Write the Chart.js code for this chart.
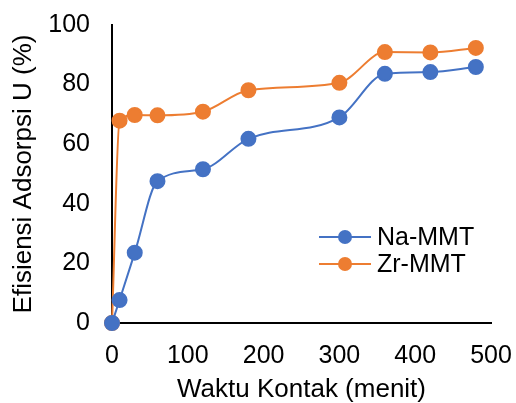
<!DOCTYPE html>
<html>
<head>
<meta charset="utf-8">
<script src="https://cdn.jsdelivr.net/npm/chart.js@4/dist/chart.umd.min.js"></script>
<style>
  html, body { margin: 0; padding: 0; background: #fff; }
  #wrap { width: 516px; height: 403px; }
</style>
</head>
<body>
<div id="wrap"><canvas id="c" width="516" height="403"></canvas></div>
<script>
// Contact time (minutes)
const waktu = [0, 10, 30, 60, 120, 180, 300, 360, 420, 480];
// Uranium adsorption efficiency (%)
const naMMT = [0, 7.7, 23.6, 47.6, 51.6, 61.8, 69.0, 83.6, 84.2, 85.9];
const zrMMT = [0, 67.9, 69.8, 69.7, 70.9, 78.1, 80.6, 90.9, 90.8, 92.3];
const seriesNames = ['Na-MMT', 'Zr-MMT'];
const xTicks = [0, 100, 200, 300, 400, 500];
const yTicks = [0, 20, 40, 60, 80, 100];

const BLUE = '#4472C4';
const ORANGE = '#ED7D31';
const FONT = "'Liberation Sans', Arial, sans-serif";

const toPoints = ys => waktu.map((x, i) => ({ x: x, y: ys[i] }));

// Legend drawn inside the plot: line + marker + label
const innerLegend = {
  id: 'innerLegend',
  afterDatasetsDraw(chart) {
    const ctx = chart.ctx;
    const area = chart.chartArea;
    const x0 = area.left + 207;
    const y0 = area.top + 212;
    const rowH = 27;
    chart.data.datasets.forEach((ds, i) => {
      const y = y0 + i * rowH;
      ctx.save();
      ctx.strokeStyle = ds.borderColor;
      ctx.lineWidth = 2;
      ctx.beginPath();
      ctx.moveTo(x0, y);
      ctx.lineTo(x0 + 52, y);
      ctx.stroke();
      ctx.fillStyle = ds.backgroundColor;
      ctx.beginPath();
      ctx.arc(x0 + 26, y, 7, 0, Math.PI * 2);
      ctx.fill();
      ctx.fillStyle = '#000';
      ctx.font = '25px ' + FONT;
      ctx.textBaseline = 'middle';
      ctx.textAlign = 'left';
      ctx.fillText(ds.label, x0 + 58, y + 1);
      ctx.restore();
    });
  }
};

new Chart(document.getElementById('c'), {
  type: 'line',
  data: {
    datasets: [
      {
        label: seriesNames[0],
        data: toPoints(naMMT),
        borderColor: BLUE,
        backgroundColor: BLUE,
        pointBackgroundColor: BLUE,
        pointBorderColor: BLUE,
        borderWidth: 2,
        pointRadius: 7,
        cubicInterpolationMode: 'monotone',
        clip: false
      },
      {
        label: seriesNames[1],
        data: toPoints(zrMMT),
        borderColor: ORANGE,
        backgroundColor: ORANGE,
        pointBackgroundColor: ORANGE,
        pointBorderColor: ORANGE,
        borderWidth: 2,
        pointRadius: 7,
        cubicInterpolationMode: 'monotone',
        clip: false
      }
    ]
  },
  options: {
    responsive: false,
    animation: false,
    devicePixelRatio: 1,
    layout: { padding: { top: 25, right: 25, left: 0, bottom: 0 } },
    plugins: {
      legend: { display: false },
      tooltip: { enabled: false }
    },
    scales: {
      x: {
        type: 'linear',
        min: 0,
        max: 500,
        afterBuildTicks: s => { s.ticks = xTicks.map(v => ({ value: v })); },
        grid: { display: false, drawTicks: false },
        border: { display: true, color: '#000', width: 2 },
        ticks: { color: '#000', font: { family: FONT, size: 25 }, padding: 18, maxRotation: 0 },
        title: {
          display: true,
          text: 'Waktu Kontak (menit)',
          color: '#000',
          font: { family: FONT, size: 26, lineHeight: 1.0 },
          padding: { top: 0, bottom: 0 }
        },
        afterFit: s => { s.height = 80; s.paddingLeft = 0; s.paddingRight = 0; }
      },
      y: {
        type: 'linear',
        min: 0,
        max: 100,
        afterBuildTicks: s => { s.ticks = yTicks.map(v => ({ value: v })); },
        grid: { display: false, drawTicks: false },
        border: { display: true, color: '#000', width: 2 },
        ticks: { color: '#000', font: { family: FONT, size: 25 }, padding: 22 },
        title: {
          display: true,
          text: 'Efisiensi Adsorpsi U (%)',
          color: '#000',
          font: { family: FONT, size: 26, lineHeight: 1.0 },
          padding: { top: 11, bottom: 0 }
        },
        afterFit: s => { s.width = 112; s.paddingTop = 0; s.paddingBottom = 0; }
      }
    }
  },
  plugins: [innerLegend]
});
</script>
</body>
</html>
